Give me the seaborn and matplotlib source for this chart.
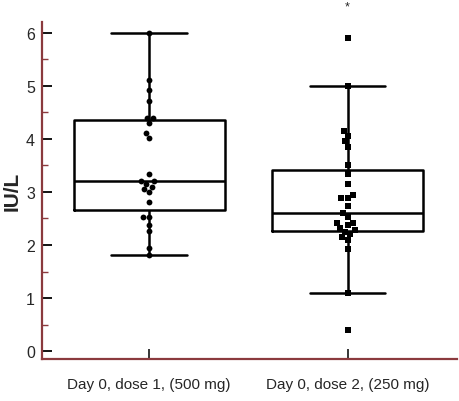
import pandas as pd
import seaborn as sns
from matplotlib import pyplot as plt, ticker

# values (IU/L)
groups = ['Day 0, dose 1, (500 mg)', 'Day 0, dose 2, (250 mg)']
dose1 = [1.82, 1.94, 2.26, 2.37, 2.52, 2.52, 2.81, 3.0, 3.05, 3.1, 3.15, 3.2,
         3.2, 3.33, 4.02, 4.11, 4.3, 4.4, 4.4, 4.72, 4.91, 5.11, 6.0]
dose2 = [0.40, 1.10, 1.92, 2.10, 2.15, 2.20, 2.25, 2.28, 2.32, 2.38, 2.42, 2.42,
         2.52, 2.60, 2.73, 2.89, 2.89, 2.95, 3.14, 3.33, 3.51, 3.85, 3.95, 4.05,
         4.14, 5.0, 5.9]
yticks = [0, 1, 2, 3, 4, 5, 6]

df = pd.DataFrame({
    'group': [groups[0]] * len(dose1) + [groups[1]] * len(dose2),
    'value': dose1 + dose2,
})

sns.set_style('white')
plt.rcParams['font.family'] = ['Liberation Sans', 'DejaVu Sans']

fig = plt.figure(figsize=(4.6, 4.02), dpi=100)
ax = fig.add_axes([0.091, 0.104, 0.902, 0.839])

line = dict(color='black', linewidth=1.8)
sns.boxplot(df, x='group', y='value', order=groups, width=0.76, whis=1.5,
            showfliers=False, fill=False, ax=ax,
            boxprops=line, whiskerprops=line, capprops=line, medianprops=line)

# scatter of individual values, circles for dose 1, squares for dose 2
sns.swarmplot(df[df['group'] == groups[0]], x='group', y='value', order=groups,
              marker='o', color='black', size=4.2, ax=ax)
sns.swarmplot(df[df['group'] == groups[1]], x='group', y='value', order=groups,
              marker='s', color='black', size=4.3, ax=ax)

ax.text(1, 6.5, '*', ha='center', va='center', fontsize=9, clip_on=False)

ax.set_xlim(-0.54, 1.55)
ax.set_ylim(-0.15, 6.2)
ax.set_yticks(yticks)
ax.yaxis.set_minor_locator(ticker.MultipleLocator(0.5))

spine_col = '#8b3a3e'
for side in ['top', 'right']:
    ax.spines[side].set_visible(False)
for side in ['left', 'bottom']:
    ax.spines[side].set_color(spine_col)
    ax.spines[side].set_linewidth(1.6)

ax.tick_params(axis='y', which='major', direction='in', length=7, width=1.3,
               color='black', labelsize=11.5, pad=5, left=True)
ax.tick_params(axis='y', which='minor', direction='in', length=4, width=1,
               color=spine_col, left=True)
ax.tick_params(axis='x', which='major', direction='in', length=7, width=1.1,
               color='black', labelsize=11, pad=13, bottom=True)

ax.set_xlabel('')
ax.set_ylabel('IU/L', fontsize=15, fontweight='bold', labelpad=3)

plt.savefig('out.png', dpi=100)
